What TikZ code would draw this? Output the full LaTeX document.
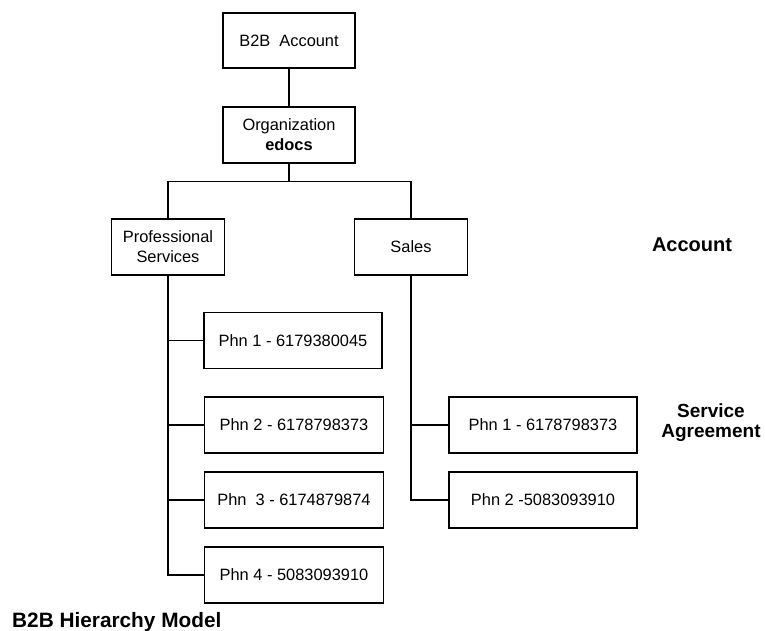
\documentclass[tikz,border=0pt]{standalone}
\usepackage{fontspec}
\setmainfont{Liberation Sans}
\usetikzlibrary{positioning}
\tikzset{
    box/.style={rectangle,draw,line width=1.5pt,align=center,inner sep=0pt,font=\fontsize{16.4}{20}\selectfont},
    phone/.style={box,minimum height=56pt},
    tag/.style={align=center,font=\bfseries\fontsize{20}{20}\selectfont},
    link/.style={line width=1.3pt},
}

\begin{document}
\begin{tikzpicture}[x=1pt,y=-1pt]
    \useasboundingbox (0,0) rectangle (765,631);
    \node[box,minimum width=132pt,minimum height=55pt] (acct) at (289,40.5) {B2B\ \ Account};
    \node[box,minimum width=132pt,minimum height=56pt] (org) at (289,135) {Organization\\\textbf{edocs}};
    \node[box,minimum width=113pt,minimum height=56pt] (prof) at (168,247) {Professional\\Services};
    \node[box,minimum width=113pt,minimum height=56pt] (sales) at (411,247) {Sales};
    \node[phone,minimum width=178pt] (p1) at (293,340.5) {Phn 1 - 6179380045};
    \node[phone,minimum width=179pt] (p2) at (294,425) {Phn 2 - 6178798373};
    \node[phone,minimum width=179pt] (p3) at (294,500) {Phn\ \ 3 - 6174879874};
    \node[phone,minimum width=179pt] (p4) at (294,575) {Phn 4 - 5083093910};
    \node[phone,minimum width=188pt] (q1) at (543,425) {Phn 1 - 6178798373};
    \node[phone,minimum width=188pt] (q2) at (543,500) {Phn 2 -5083093910};
    \node[tag] (lvl1) at (692,245) {Account};
    \node[tag,font=\bfseries\fontsize{19}{20}\selectfont] (lvl2) at (711,423) {Service\\Agreement};
    \node[tag,anchor=base west,inner sep=0pt,font=\bfseries\fontsize{20.8}{21}\selectfont] (title) at (12,627) {B2B Hierarchy Model};
    \draw[link] (acct) -- (org);
    \draw[link] (org.south) -- ++(0,18) coordinate (split) -| (prof.north);
    \draw[link] (split) -| (sales.north);
    \foreach \p in {p1,p2,p3,p4}
        \draw[link] (prof.south) |- (\p.west);
    \foreach \q in {q1,q2}
        \draw[link] (sales.south) |- (\q.west);
\end{tikzpicture}
\end{document}
